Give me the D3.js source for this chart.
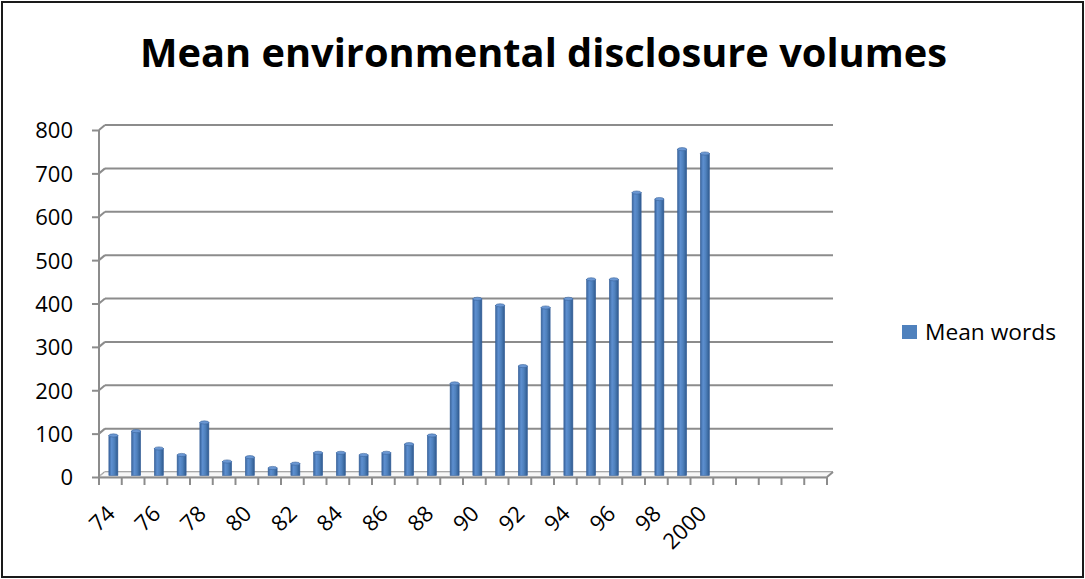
<!DOCTYPE html>
<html>
<head>
<meta charset="utf-8">
<script src="https://cdn.jsdelivr.net/npm/d3@7"></script>
<style>
  html, body { margin: 0; padding: 0; background: #fff; }
  svg { display: block; }
  text { font-family: "Open Sans", "Liberation Sans", sans-serif; fill: #000; }
</style>
</head>
<body>
<svg id="chart" width="1085" height="579"></svg>
<script>
// ---- data ----
const title = "Mean environmental disclosure volumes";
const seriesName = "Mean words";
const categories = ["74","75","76","77","78","79","80","81","82","83","84","85","86","87","88","89","90","91","92","93","94","95","96","97","98","99","2000"];
const meanWords = [90,100,60,45,120,30,40,15,25,50,50,45,50,70,90,210,405,390,250,385,405,450,450,650,635,750,740];
const emptySlots = 5;
const yTicks = [0,100,200,300,400,500,600,700,800];

// ---- layout ----
const svg = d3.select("#chart");
const W = 1085, H = 579;
const front = { x0: 99, x1: 827, y0: 477, y1: 130 };
const depth = { dx: 6, dy: -5 };
const gridColor = "#8c8c8c";

svg.append("rect").attr("x", 2).attr("y", 2).attr("width", W - 4).attr("height", H - 4)
  .attr("fill", "#fff").attr("stroke", "#1a1a1a").attr("stroke-width", 2);

svg.append("text").attr("x", 543.5).attr("y", 67).attr("text-anchor", "middle")
  .attr("font-size", 39).attr("font-weight", "bold")
  .attr("textLength", 807).attr("lengthAdjust", "spacingAndGlyphs")
  .text(title);

const nSlots = categories.length + emptySlots;
const x = d3.scaleBand().domain(d3.range(nSlots)).range([front.x0, front.x1]).padding(0);
const y = d3.scaleLinear().domain([0, 800]).range([front.y0, front.y1]);

// back wall gridlines
const grid = svg.append("g");
yTicks.forEach(v => {
  grid.append("line")
    .attr("x1", front.x0 + depth.dx).attr("x2", front.x1 + depth.dx)
    .attr("y1", y(v) + depth.dy).attr("y2", y(v) + depth.dy)
    .attr("stroke", gridColor).attr("stroke-width", 2);
  grid.append("line")
    .attr("x1", front.x0).attr("x2", front.x0 + depth.dx)
    .attr("y1", y(v)).attr("y2", y(v) + depth.dy)
    .attr("stroke", gridColor).attr("stroke-width", 2);
});

// floor
const floor = svg.append("g");
floor.append("path")
  .attr("d", `M${front.x0},${y(0)} L${front.x1},${y(0)} L${front.x1 + depth.dx},${y(0) + depth.dy} L${front.x0 + depth.dx},${y(0) + depth.dy} Z`)
  .attr("fill", "#f7f7f7").attr("stroke", "#c4c4c4").attr("stroke-width", 1);
floor.append("line")
  .attr("x1", front.x1).attr("y1", y(0)).attr("x2", front.x1 + depth.dx).attr("y2", y(0) + depth.dy)
  .attr("stroke", gridColor).attr("stroke-width", 2);

// y axis
const yAxis = d3.axisLeft(y).tickValues(yTicks).tickSize(7).tickPadding(19).tickFormat(d3.format("d"));
const gy = svg.append("g").attr("transform", `translate(${front.x0},0)`).call(yAxis);
gy.select(".domain").attr("stroke", gridColor).attr("stroke-width", 2).attr("d", `M0,${y(0)}V${y(800)}`);
gy.selectAll(".tick line").attr("stroke", gridColor).attr("stroke-width", 2);
gy.selectAll(".tick text").attr("font-size", 22).attr("font-family", "Open Sans").attr("fill", "#000").attr("dy", "0.36em");

// x axis
const xAxis = d3.axisBottom(x).tickSize(0).tickFormat(i => (i < categories.length && i % 2 === 0) ? categories[i] : "");
const gx = svg.append("g").attr("transform", `translate(0,${y(0)})`).call(xAxis);
gx.select(".domain").attr("stroke", gridColor).attr("stroke-width", 2);
gx.selectAll(".tick text")
  .attr("font-size", 22).attr("font-family", "Open Sans").attr("fill", "#000")
  .attr("text-anchor", "end")
  .attr("transform", "translate(6,38) rotate(-45)")
  .attr("x", 0).attr("y", 0).attr("dy", 0);
// boundary ticks
d3.range(nSlots + 1).forEach(i => {
  const px = i < nSlots ? x(i) : x(nSlots - 1) + x.bandwidth();
  gx.append("line").attr("x1", px).attr("x2", px).attr("y1", 0).attr("y2", 8)
    .attr("stroke", gridColor).attr("stroke-width", 2);
});

// bars
const defs = svg.append("defs");
const grad = defs.append("linearGradient").attr("id", "barGrad").attr("x1", "0").attr("x2", "1").attr("y1", "0").attr("y2", "0");
grad.append("stop").attr("offset", "0%").attr("stop-color", "#3a659c");
grad.append("stop").attr("offset", "30%").attr("stop-color", "#5d8fd0");
grad.append("stop").attr("offset", "60%").attr("stop-color", "#4f81bd");
grad.append("stop").attr("offset", "100%").attr("stop-color", "#2f5a8e");

const barW = 9;
const bars = svg.append("g").selectAll("g").data(meanWords).join("g");
bars.append("rect")
  .attr("x", (d, i) => x(i) + x.bandwidth() / 2 + depth.dx / 2 - barW / 2)
  .attr("y", d => y(d) + depth.dy / 2)
  .attr("width", barW)
  .attr("height", d => y(0) - y(d) + 1)
  .attr("fill", "url(#barGrad)")
  .attr("stroke", "#36609a").attr("stroke-width", 0.6);
bars.append("ellipse")
  .attr("cx", (d, i) => x(i) + x.bandwidth() / 2 + depth.dx / 2)
  .attr("cy", d => y(d) + depth.dy / 2)
  .attr("rx", barW / 2).attr("ry", 1.6)
  .attr("fill", "#6a97d3").attr("stroke", "#3a659c").attr("stroke-width", 0.6);

// legend
const lg = svg.append("g");
lg.append("rect").attr("x", 902).attr("y", 325).attr("width", 15).attr("height", 14).attr("fill", "#4f81bd");
lg.append("text").attr("x", 925).attr("y", 340).attr("font-size", 21)
  .attr("textLength", 131).attr("lengthAdjust", "spacingAndGlyphs")
  .text(seriesName);
</script>
</body>
</html>
